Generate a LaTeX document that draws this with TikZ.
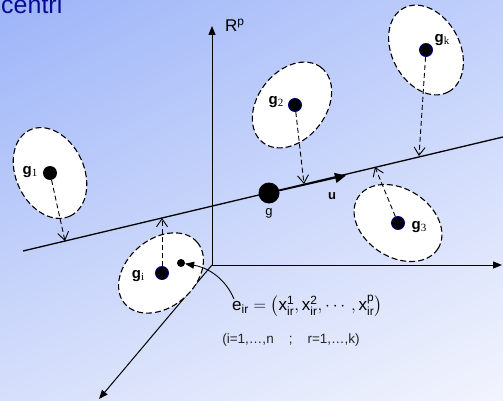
\documentclass[tikz,border=0pt]{standalone}
\usepackage{fontspec}
\usepackage{amsmath}
\setmainfont{Liberation Sans}
\newfontfamily\serifsub{Liberation Serif}
\usetikzlibrary{arrows.meta,shapes.geometric,calc,shadings}
\definecolor{bgA}{RGB}{156,180,248}
\definecolor{bgB}{RGB}{192,207,251}
\definecolor{bgC}{RGB}{214,223,251}
\definecolor{bgD}{RGB}{242,244,253}
\definecolor{titleblue}{RGB}{10,10,150}
\definecolor{ptblue}{RGB}{0,0,120}
\tikzset{
  clusterell/.style={ellipse, draw=black, fill=white, dash pattern=on 6pt off 3pt, line width=1.1pt, inner sep=0pt, minimum width=95pt, minimum height=68pt},
  ptdot/.style={circle, fill=black, draw=ptblue, line width=0.9pt, inner sep=0pt, minimum size=13pt},
  projarrow/.style={dash pattern=on 5pt off 3pt, line width=0.9pt, -{Straight Barb[length=8pt,width=11pt,line width=0.9pt]}},
  axisarrow/.style={line width=1pt, -{Triangle[length=9pt,width=7pt]}},
  glabel/.style={font=\fontsize{15}{15}\selectfont\bfseries, inner sep=0pt},
}
\newcommand{\gl}[2]{g{\serifsub\mdseries\fontsize{11}{11}\selectfont\raisebox{-2pt}{#2}}}
\begin{document}
\begin{tikzpicture}[x=1pt,y=-1pt]
\useasboundingbox (0,0) rectangle (503,401);
\shade[upper left=bgA, upper right=bgB, lower left=bgC, lower right=bgD] (0,0) rectangle (503,401);
\node[anchor=base west, text=titleblue, font=\fontsize{25}{25}\selectfont, inner sep=0pt] (title) at (1,14) {centri};
% axes
\coordinate (O) at (212,265);
\coordinate (Ytip) at (212,26);
\coordinate (Xtip) at (502,265);
\coordinate (Ztip) at (99,399);
\draw[axisarrow] (O) -- (Ytip);
\draw[axisarrow] (O) -- (Xtip);
\draw[axisarrow] (O) -- (Ztip);
\node[font=\fontsize{17}{17}\selectfont, anchor=base west, inner sep=0pt] (Rp) at (225,32) {R$^{\text{p}}$};
% ellipses
\node[clusterell, rotate=-65] (E1) at (50,173) {};
\node[clusterell, rotate=52] (E2) at (292,105) {};
\node[clusterell, rotate=-62] (Ek) at (426,50) {};
\node[clusterell, rotate=-33] (E3) at (398,223) {};
\node[clusterell, rotate=40] (Ei) at (161,273) {};
% main line
\coordinate (L1) at (23,251);
\coordinate (L2) at (503,137);
\draw[line width=1.3pt] (L1) -- (L2);
% points
\node[circle, fill=black, inner sep=0pt, minimum size=14pt] (g1) at (50,173) {};
\node[ptdot] (g2) at (295,105) {};
\node[ptdot] (gk) at (426,50) {};
\node[ptdot] (g3) at (398,223) {};
\node[ptdot] (gi) at (162,273) {};
\node[circle, fill=black, inner sep=0pt, minimum size=21pt] (g) at (269,193) {};
\node[circle, fill=black, inner sep=0pt, minimum size=8pt] (ed) at (181,263) {};
% projections
\coordinate (p1) at (65,241);
\coordinate (p2) at (304,184);
\coordinate (pk) at (419,156);
\coordinate (p3) at (375,167);
\coordinate (pi) at (162,218);
\draw[projarrow] (g1) -- (p1);
\draw[projarrow] (g2) -- (p2);
\draw[projarrow] (gk) -- (pk);
\draw[projarrow] (g3) -- (p3);
\draw[projarrow] (gi) -- (pi);
% u vector
\coordinate (utip) at (346,175.5);
\draw[line width=1.3pt, -{Triangle[length=11pt,width=10pt]}] (g) -- (utip);
\node[font=\fontsize{13}{13}\selectfont\bfseries, inner sep=0pt] (ulab) at (332,196) {u};
\node[font=\fontsize{13}{13}\selectfont, inner sep=0pt] (glab) at (269,213) {g};
% labels
\node[glabel] (l1) at (30,172) {\gl{g}{1}};
\node[glabel] (l2) at (276,102) {\gl{g}{2}};
\node[glabel] (lk) at (442,40) {\gl{g}{k}};
\node[glabel] (l3) at (419,227) {\gl{g}{3}};
\node[glabel] (li) at (138,276) {\gl{g}{i}};
% formula
\node[anchor=west, inner sep=0pt, font=\fontsize{17}{17}\selectfont] (f) at (232,306)
  {$\text{e}_{\text{ir}} = \left(\text{x}^{\text{1}}_{\text{ir}}, \text{x}^{\text{2}}_{\text{ir}}, \cdots, \text{x}^{\text{p}}_{\text{ir}}\right)$};
\coordinate (fstart) at (234,299);
\draw[line width=0.9pt, -{Triangle[length=9pt,width=7pt]}] (fstart) .. controls (226,280) and (210,268) .. (ed);
\node[font=\fontsize{13.5}{13.5}\selectfont, inner sep=0pt, text=black!85] (range) at (291,340) {(i=1,…,n\hspace{15pt};\hspace{15pt}r=1,…,k)};
\end{tikzpicture}
\end{document}
